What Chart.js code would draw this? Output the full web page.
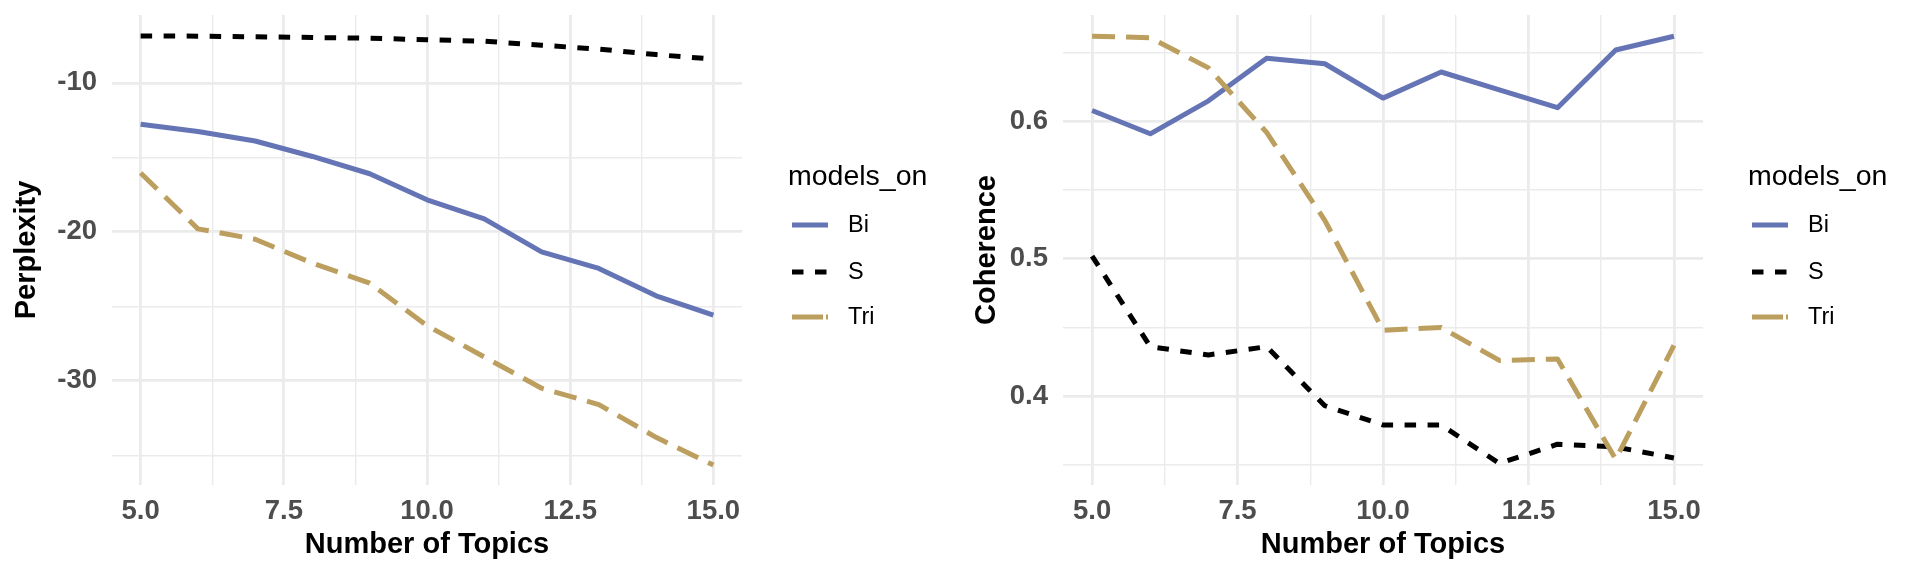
<!DOCTYPE html>
<html>
<head>
<meta charset="utf-8">
<script src="https://cdn.jsdelivr.net/npm/chart.js@4"></script>
<style>
html,body{margin:0;padding:0;background:#fff;width:1920px;height:576px;overflow:hidden}
.p{position:absolute;top:0;width:960px;height:576px}
canvas{display:block}
</style>
</head>
<body>
<div class="p" style="left:0"><canvas id="c1" width="960" height="576"></canvas></div>
<div class="p" style="left:960px"><canvas id="c2" width="960" height="576"></canvas></div>
<script>
// ---------- data ----------
const topics = [5, 6, 7, 8, 9, 10, 11, 12, 13, 14, 15];
const seriesNames = ['Bi', 'S', 'Tri'];

const perplexityBi  = [-12.77, -13.26, -13.9, -14.94, -16.1, -17.85, -19.13, -21.35, -22.46, -24.3, -25.6];
const perplexityS   = [-6.85, -6.86, -6.9, -6.95, -7.0, -7.1, -7.2, -7.47, -7.73, -8.1, -8.4];
const perplexityTri = [-16.05, -19.8, -20.5, -22.1, -23.45, -26.3, -28.4, -30.5, -31.6, -33.8, -35.66];

const coherenceBi  = [0.608, 0.591, 0.615, 0.646, 0.642, 0.617, 0.636, 0.623, 0.610, 0.652, 0.662];
const coherenceS   = [0.502, 0.436, 0.430, 0.436, 0.393, 0.379, 0.379, 0.351, 0.365, 0.363, 0.355];
const coherenceTri = [0.662, 0.661, 0.639, 0.592, 0.528, 0.448, 0.450, 0.426, 0.427, 0.354, 0.437];

const xMajorTicks = [5, 7.5, 10, 12.5, 15];
const xMinorTicks = [6.25, 8.75, 11.25, 13.75];
const perplexityMajorTicks = [-30, -20, -10];
const perplexityMinorTicks = [-35, -25, -15];
const coherenceMajorTicks = [0.4, 0.5, 0.6];
const coherenceMinorTicks = [0.35, 0.45, 0.55, 0.65];

const legendTitle = 'models_on';
const xTitle = 'Number of Topics';

// ---------- style ----------
const FONT = "'Liberation Sans', Arial, Helvetica, sans-serif";
Chart.defaults.font.family = FONT;
const colors = {Bi: '#6474B4', S: '#000000', Tri: '#BC9F5F'};
const dashes = {Bi: [], S: [11.5, 11.5], Tri: [23, 11]};
const legendDashes = {Bi: [], S: [11.5, 11.5], Tri: [31, 3]};
const drawOrder = {Bi: 2, S: 1, Tri: 0};

function toPoints(vals) { return vals.map((v, i) => ({x: topics[i], y: v})); }

function makeDatasets(valsByName) {
  return seriesNames.map(n => ({
    label: n,
    data: toPoints(valsByName[n]),
    borderColor: colors[n],
    backgroundColor: colors[n],
    borderWidth: 5,
    borderDash: dashes[n],
    borderCapStyle: 'butt',
    borderJoinStyle: 'round',
    pointRadius: 0,
    tension: 0,
    fill: false,
    order: drawOrder[n]
  }));
}

const legendPlugin = {
  id: 'ggLegend',
  afterDraw(chart) {
    const ctx = chart.ctx;
    ctx.save();
    ctx.fillStyle = '#000';
    ctx.textAlign = 'left';
    ctx.textBaseline = 'alphabetic';
    ctx.font = '28.5px ' + FONT;
    ctx.fillText(legendTitle, 788, 185);
    const ys = [225, 272, 317];
    seriesNames.forEach((n, i) => {
      const ds = chart.data.datasets.find(d => d.label === n);
      ctx.beginPath();
      ctx.strokeStyle = ds.borderColor;
      ctx.lineWidth = ds.borderWidth;
      ctx.lineCap = 'butt';
      ctx.setLineDash(legendDashes[n]);
      ctx.moveTo(792, ys[i]);
      ctx.lineTo(828, ys[i]);
      ctx.stroke();
      ctx.setLineDash([]);
      ctx.fillStyle = '#000';
      ctx.font = '23.5px ' + FONT;
      ctx.textBaseline = 'middle';
      ctx.fillText(ds.label, 848, ys[i] + 1);
    });
    ctx.restore();
  }
};

function makeChart(id, opts) {
  const xTicks = xMajorTicks.concat(xMinorTicks).sort((a, b) => a - b);
  const yTicks = opts.yMajor.concat(opts.yMinor).sort((a, b) => a - b);
  return new Chart(document.getElementById(id), {
    type: 'line',
    data: {datasets: makeDatasets(opts.values)},
    plugins: [legendPlugin],
    options: {
      responsive: false,
      animation: false,
      devicePixelRatio: 1,
      layout: {padding: {top: 15, right: opts.rightPad, left: 0, bottom: 0}},
      plugins: {legend: {display: false}, tooltip: {enabled: false}},
      scales: {
        x: {
          type: 'linear',
          min: 4.5,
          max: 15.5,
          afterBuildTicks: s => { s.ticks = xTicks.map(v => ({value: v})); },
          afterFit: s => { s.height = 91; s.paddingLeft = 0; s.paddingRight = 0; },
          grid: {
            color: '#EBEBEB',
            lineWidth: c => (c.tick && xMajorTicks.includes(c.tick.value)) ? 2.8 : 1.4,
            drawTicks: false
          },
          border: {display: false},
          ticks: {
            autoSkip: false,
            maxRotation: 0,
            padding: 10,
            color: '#4D4D4D',
            font: {size: 27.5, weight: 'bold'},
            callback: v => xMajorTicks.includes(v) ? v.toFixed(1) : ''
          },
          title: {
            display: true,
            text: xTitle,
            color: '#000',
            font: {size: 29, weight: 'bold'},
            padding: {top: 0, bottom: 14}
          }
        },
        y: {
          type: 'linear',
          min: opts.yMin,
          max: opts.yMax,
          afterBuildTicks: s => { s.ticks = yTicks.map(v => ({value: v})); },
          afterFit: s => { s.width = opts.yWidth; s.paddingTop = 0; s.paddingBottom = 0; },
          grid: {
            color: '#EBEBEB',
            lineWidth: c => (c.tick && opts.yMajor.includes(c.tick.value)) ? 2.8 : 1.4,
            drawTicks: false
          },
          border: {display: false},
          ticks: {
            autoSkip: false,
            padding: 15,
            color: '#4D4D4D',
            font: {size: 27.5, weight: 'bold'},
            callback: v => opts.yMajor.includes(v) ? v.toFixed(opts.dec) : ''
          },
          title: {
            display: true,
            text: opts.yTitle,
            color: '#000',
            font: {size: 29, weight: 'bold'},
            padding: {top: 10, bottom: 0}
          }
        }
      }
    }
  });
}

makeChart('c1', {
  values: {Bi: perplexityBi, S: perplexityS, Tri: perplexityTri},
  yMin: -37.0, yMax: -5.44,
  yMajor: perplexityMajorTicks, yMinor: perplexityMinorTicks,
  yTitle: 'Perplexity', dec: 0, yWidth: 112, rightPad: 218
});
makeChart('c2', {
  values: {Bi: coherenceBi, S: coherenceS, Tri: coherenceTri},
  yMin: 0.3353, yMax: 0.6775,
  yMajor: coherenceMajorTicks, yMinor: coherenceMinorTicks,
  yTitle: 'Coherence', dec: 1, yWidth: 103, rightPad: 217
});
</script>
</body>
</html>
